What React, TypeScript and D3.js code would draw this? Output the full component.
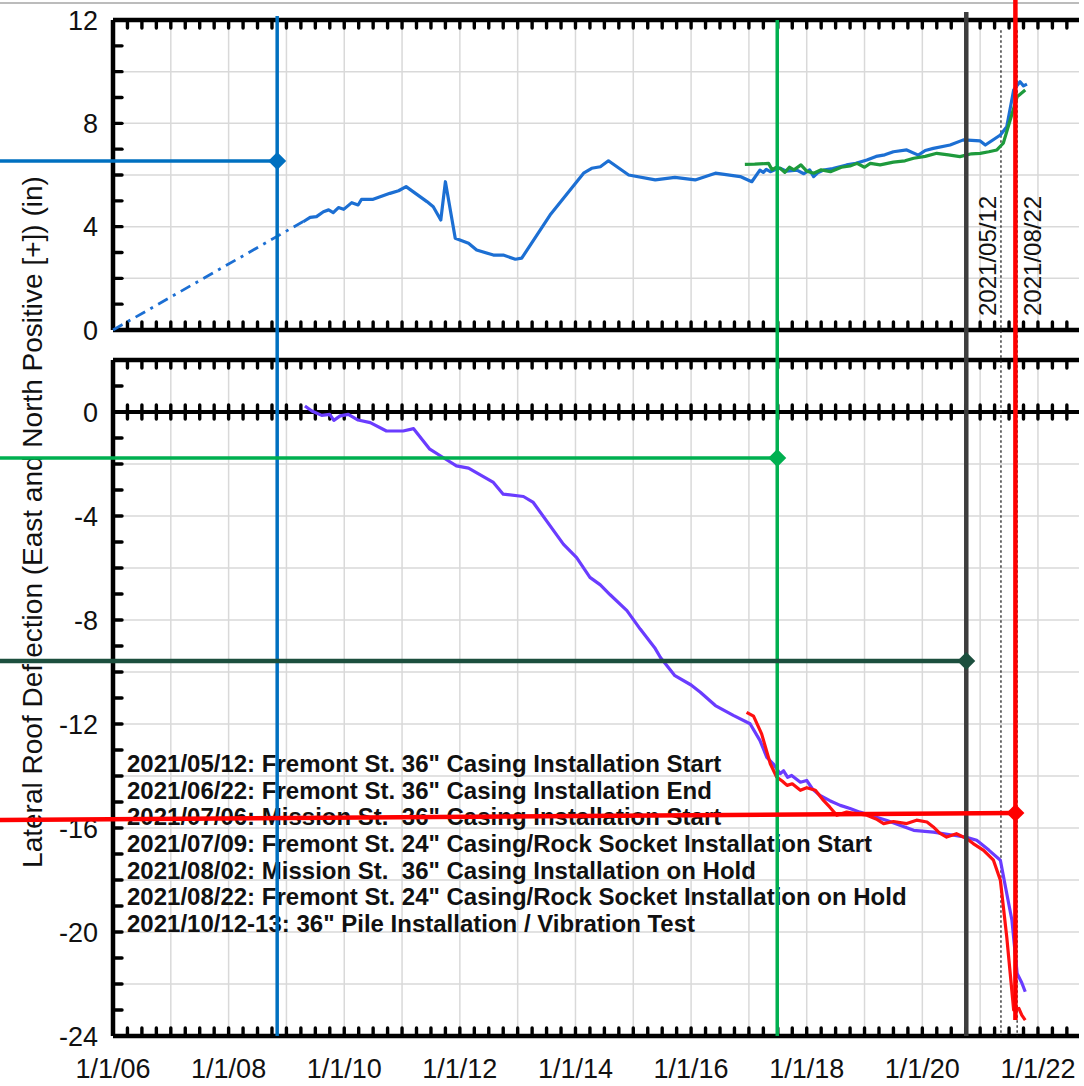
import React from "react";
import * as d3 from "d3";

const W = 1084;
const H = 1086;

// decimal year, inches
const blueTop: [number, number][] = [
  [2009.29, 4.19], [2009.41, 4.36], [2009.52, 4.39], [2009.64, 4.58], [2009.73, 4.65],
  [2009.81, 4.54], [2009.9, 4.74], [2009.99, 4.67], [2010.13, 4.93], [2010.24, 4.84],
  [2010.3, 5.06], [2010.5, 5.06], [2010.79, 5.29], [2010.94, 5.39], [2011.07, 5.55],
  [2011.43, 4.97], [2011.54, 4.77], [2011.67, 4.26], [2011.75, 5.74], [2011.92, 3.55],
  [2012.15, 3.36], [2012.29, 3.1], [2012.58, 2.9], [2012.75, 2.9], [2012.96, 2.74],
  [2013.07, 2.78], [2013.56, 4.45], [2014.14, 6.07], [2014.28, 6.26], [2014.43, 6.32],
  [2014.57, 6.55], [2014.92, 6.0], [2015.38, 5.81], [2015.72, 5.91], [2016.07, 5.81],
  [2016.42, 6.07], [2016.85, 5.94], [2017.05, 5.74], [2017.19, 6.19], [2017.25, 6.1],
  [2017.3, 6.22], [2017.37, 6.13], [2017.45, 6.2], [2017.54, 6.26], [2017.65, 6.15],
  [2017.83, 6.19], [2017.95, 6.05], [2018.05, 6.2], [2018.12, 5.94], [2018.2, 6.1],
  [2018.29, 6.19], [2018.45, 6.25], [2018.69, 6.39], [2018.85, 6.45], [2019.04, 6.58],
  [2019.2, 6.72], [2019.35, 6.78], [2019.5, 6.9], [2019.73, 6.97], [2019.93, 6.77],
  [2020.05, 6.95], [2020.19, 7.03], [2020.48, 7.16], [2020.71, 7.36], [2021.0, 7.32],
  [2021.09, 7.16], [2021.35, 7.55], [2021.46, 7.87], [2021.58, 9.29], [2021.69, 9.61],
  [2021.75, 9.45], [2021.81, 9.52],
];

const greenTop: [number, number][] = [
  [2016.93, 6.41], [2017.1, 6.42], [2017.34, 6.45], [2017.4, 6.2], [2017.47, 6.3],
  [2017.54, 6.26], [2017.62, 6.1], [2017.7, 6.3], [2017.78, 6.2], [2017.9, 6.39],
  [2018.0, 6.15], [2018.12, 6.07], [2018.25, 6.2], [2018.41, 6.13], [2018.6, 6.3],
  [2018.75, 6.35], [2018.87, 6.45], [2019.0, 6.3], [2019.1, 6.45], [2019.27, 6.39],
  [2019.5, 6.5], [2019.7, 6.55], [2019.85, 6.65], [2020.05, 6.72], [2020.25, 6.84],
  [2020.45, 6.78], [2020.65, 6.71], [2020.85, 6.82], [2021.0, 6.84], [2021.15, 6.9],
  [2021.29, 6.97], [2021.4, 7.23], [2021.52, 8.13], [2021.64, 9.03], [2021.78, 9.29],
];

const blueTrend: [number, number][] = [
  [2006.0, 0], [2009.29, 4.2],
];

const purpleBot: [number, number][] = [
  [2009.32, 0.23], [2009.44, 0.04], [2009.61, -0.13], [2009.75, -0.09], [2009.82, -0.32],
  [2009.93, -0.15], [2010.07, -0.09], [2010.24, -0.31], [2010.45, -0.41], [2010.73, -0.73],
  [2011.02, -0.73], [2011.2, -0.64], [2011.48, -1.43], [2011.71, -1.75], [2011.94, -2.07],
  [2012.15, -2.16], [2012.58, -2.71], [2012.75, -3.16], [2013.1, -3.25], [2013.27, -3.48],
  [2013.79, -5.08], [2014.02, -5.6], [2014.25, -6.36], [2014.43, -6.65], [2014.6, -7.03],
  [2014.89, -7.64], [2015.12, -8.35], [2015.38, -9.1], [2015.47, -9.44], [2015.72, -10.14],
  [2016.0, -10.5], [2016.16, -10.78], [2016.42, -11.29], [2016.73, -11.67], [2017.02, -11.99],
  [2017.19, -12.63], [2017.31, -13.28], [2017.42, -13.53], [2017.54, -13.91], [2017.6, -13.8],
  [2017.67, -14.05], [2017.74, -13.98], [2017.89, -14.24], [2018.0, -14.17], [2018.1, -14.5],
  [2018.23, -14.75], [2018.4, -14.95], [2018.58, -15.13], [2018.75, -15.25], [2018.92, -15.39],
  [2019.15, -15.55], [2019.39, -15.71], [2019.6, -15.88], [2019.85, -16.09], [2020.19, -16.16],
  [2020.54, -16.28], [2020.75, -16.35], [2020.94, -16.47], [2021.15, -16.85], [2021.35, -17.24],
  [2021.46, -18.52], [2021.55, -19.55], [2021.64, -21.59], [2021.72, -21.95], [2021.78, -22.3],
];

const redBot: [number, number][] = [
  [2016.96, -11.55], [2017.08, -11.7], [2017.22, -12.38], [2017.37, -13.53], [2017.48, -14.04],
  [2017.58, -14.2], [2017.66, -14.36], [2017.75, -14.3], [2017.89, -14.55], [2018.0, -14.45],
  [2018.15, -14.55], [2018.29, -14.94], [2018.4, -15.2], [2018.52, -15.51], [2018.69, -15.39],
  [2018.85, -15.45], [2019.04, -15.51], [2019.2, -15.65], [2019.33, -15.83], [2019.5, -15.75],
  [2019.73, -15.83], [2019.9, -15.7], [2020.08, -15.77], [2020.19, -15.96], [2020.3, -16.2],
  [2020.42, -16.35], [2020.59, -16.22], [2020.77, -16.41], [2020.88, -16.6], [2021.06, -16.86],
  [2021.23, -17.24], [2021.35, -18.01], [2021.46, -20.19], [2021.58, -23.0], [2021.67, -22.94],
  [2021.72, -23.2], [2021.78, -23.39],
];

const xLabelYears = d3.range(2006, 2023, 2);
const topLabels = [0, 4, 8, 12];
const botLabels = [0, -4, -8, -12, -16, -20, -24];

const eventLines = [
  "2021/05/12: Fremont St. 36\" Casing Installation Start",
  "2021/06/22: Fremont St. 36\" Casing Installation End",
  "2021/07/06: Mission St.  36\" Casing Installation Start",
  "2021/07/09: Fremont St. 24\" Casing/Rock Socket Installation Start",
  "2021/08/02: Mission St.  36\" Casing Installation on Hold",
  "2021/08/22: Fremont St. 24\" Casing/Rock Socket Installation on Hold",
  "2021/10/12-13: 36\" Pile Installation / Vibration Test",
];

const eventDates = ["2021/05/12", "2021/08/22"];
const eventYears = [2021.36, 2021.64];
const eventLabelShift = [-5, 24];

// reference cross-hairs: date, value, panel
const markerYears = [2008.84, 2017.49, 2020.76, 2021.61];
const markerValues = [6.54, -1.77, -9.58, -15.42];
const markerStartValues = [6.54, -1.77, -9.58, -15.69];
const markerPanels = ["top", "bot", "bot", "bot"];
const markerColors = ["#0070c0", "#00b050", "#1c4f3e", "#ff0000"];
const markerVColors = ["#0070c0", "#00b050", "#3d3d3d", "#ff0000"];
const markerVTops = [16, 20, 12, 0];
const markerVBottoms = [1036, 1036, 1036, 1020];
const markerWidths = [3.5, 3.5, 4.5, 4.5];

const FONT = "'Liberation Sans', Arial, sans-serif";

export default function App() {
  const x = d3.scaleLinear().domain([2006, 2022.71]).range([113, 1079]);
  const yTop = d3.scaleLinear().domain([0, 12]).range([330, 20]);
  const yBot = d3.scaleLinear().domain([-24, 2]).range([1036, 360]);

  const lineTop = d3.line<[number, number]>().x((d) => x(d[0])).y((d) => yTop(d[1]));
  const lineBot = d3.line<[number, number]>().x((d) => x(d[0])).y((d) => yBot(d[1]));

  const quarters = d3.range(2006.25, 2022.7, 0.25);
  const years = d3.range(2007, 2023, 1);
  const x0 = x.range()[0];
  const x1 = x.range()[1];

  const panels = [
    { y: yTop, grid: d3.range(2, 12, 2), minor: d3.range(1, 12, 1) },
    { y: yBot, grid: d3.range(-22, 2, 2), minor: d3.range(-23, 2, 1) },
  ];

  const tickStyle = { stroke: "#000", strokeWidth: 3.4, strokeLinecap: "round" as const };

  return (
    <svg width={W} height={H} style={{ position: "absolute", left: 0, top: 0, background: "#fff" }} fontFamily={FONT}>
      <line x1={0} x2={x1} y1={3} y2={3} stroke="#a6a6a6" strokeWidth={1.5} />

      {panels.map((p, i) => {
        const [yb, yt] = p.y.range();
        return (
          <g key={i}>
            {p.grid.map((v) => (
              <line key={"h" + v} x1={x0} x2={x1} y1={p.y(v)} y2={p.y(v)} stroke="#d9d9d9" strokeWidth={1.5} />
            ))}
            {years.map((yr) => (
              <line key={"v" + yr} x1={x(yr)} x2={x(yr)} y1={yt} y2={yb} stroke="#d9d9d9" strokeWidth={1.5} />
            ))}
            <line x1={x0} x2={x1} y1={yt} y2={yt} stroke="#000" strokeWidth={4.5} />
            <line x1={x0} x2={x1} y1={yb} y2={yb} stroke="#000" strokeWidth={4.5} />
            <line x1={x0} x2={x0} y1={yt} y2={yb} stroke="#000" strokeWidth={4.5} />
            {quarters.map((q) => (
              <g key={"q" + q}>
                <line x1={x(q)} x2={x(q)} y1={yt} y2={yt + 8} {...tickStyle} />
                <line x1={x(q)} x2={x(q)} y1={yb} y2={yb - 8} {...tickStyle} />
              </g>
            ))}
            {p.minor.map((v) => (
              <line key={"m" + v} x1={x0} x2={x0 + 9} y1={p.y(v)} y2={p.y(v)} {...tickStyle} />
            ))}
          </g>
        );
      })}

      {/* zero line of lower panel */}
      <line x1={x0} x2={x1} y1={yBot(0)} y2={yBot(0)} stroke="#000" strokeWidth={4} />
      {quarters.map((q) => (
        <line key={"z" + q} x1={x(q)} x2={x(q)} y1={yBot(0) - 7} y2={yBot(0) + 7} {...tickStyle} />
      ))}

      {topLabels.map((v) => (
        <text key={"tl" + v} x={98} y={yTop(v)} dy="0.36em" textAnchor="end" fontSize={27} fill="#111">
          {v}
        </text>
      ))}
      {botLabels.map((v) => (
        <text key={"bl" + v} x={98} y={yBot(v)} dy="0.36em" textAnchor="end" fontSize={27} fill="#111">
          {v}
        </text>
      ))}

      {xLabelYears.map((yr) => (
        <text key={"xl" + yr} x={x(yr)} y={1078} textAnchor="middle" fontSize={27} fill="#111">
          {`1/1/${String(yr).slice(2)}`}
        </text>
      ))}

      <text transform={`translate(42, 522) rotate(-90)`} textAnchor="middle" fontSize={28} fill="#111">
        Lateral Roof Deflection (East and North Positive [+]) (in)
      </text>

      {eventYears.map((yr) => (
        <line key={"e" + yr} x1={x(yr)} x2={x(yr)} y1={yTop(11.6)} y2={yBot(-24)} stroke="#222" strokeWidth={1.3} strokeDasharray="2.5,2.5" />
      ))}
      {eventDates.map((d, i) => (
        <text key={d} transform={`translate(${x(eventYears[i]) + eventLabelShift[i]}, 316) rotate(-90)`} fontSize={24} fill="#111">
          {d}
        </text>
      ))}

      <path d={lineTop(blueTrend) ?? ""} fill="none" stroke="#1c6fd3" strokeWidth={2.8} strokeDasharray="11,6,3,6" />
      <path d={lineTop(blueTop) ?? ""} fill="none" stroke="#1c6fd3" strokeWidth={3.2} strokeLinejoin="round" />
      <path d={lineTop(greenTop) ?? ""} fill="none" stroke="#1e9a3c" strokeWidth={3.2} strokeLinejoin="round" />
      <path d={lineBot(purpleBot) ?? ""} fill="none" stroke="#6a3cff" strokeWidth={3.2} strokeLinejoin="round" />
      <path d={lineBot(redBot) ?? ""} fill="none" stroke="#ff1010" strokeWidth={3.2} strokeLinejoin="round" />

      {eventLines.map((t, i) => (
        <text key={t} x={127} y={yBot(-13.85) + i * 26.6} fontSize={24} fontWeight="bold" fill="#111" style={{ whiteSpace: "pre" }}>
          {t}
        </text>
      ))}

      {markerYears.map((yr, i) => {
        const ys = markerPanels[i] === "top" ? yTop : yBot;
        const mx = x(yr);
        const my = ys(markerValues[i]);
        const s = 9;
        return (
          <g key={"mk" + i}>
            <line x1={mx} x2={mx} y1={markerVTops[i]} y2={markerVBottoms[i]} stroke={markerVColors[i]} strokeWidth={markerWidths[i]} />
            <line x1={0} x2={mx} y1={ys(markerStartValues[i])} y2={my} stroke={markerColors[i]} strokeWidth={markerWidths[i]} />
            <path d={`M${mx - s},${my} L${mx},${my - s} L${mx + s},${my} L${mx},${my + s} Z`} fill={markerColors[i]} />
          </g>
        );
      })}
    </svg>
  );
}
